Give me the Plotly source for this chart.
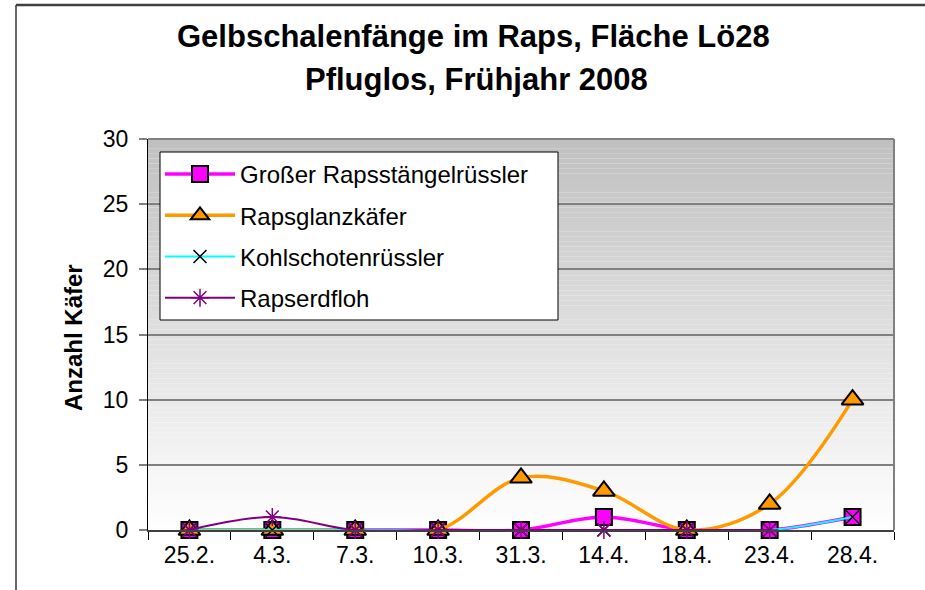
import plotly.graph_objects as go

dates = ["25.2.", "4.3.", "7.3.", "10.3.", "31.3.", "14.4.", "18.4.", "23.4.", "28.4."]
grosser_rapsstaengelruessler = [0, 0, 0, 0, 0, 1, 0, 0, 1]
rapsglanzkaefer = [0, 0, 0, 0, 4, 3, 0, 2, 10]
kohlschotenruessler = [0, 0, 0, 0, 0, 0, 0, 0, 1]
rapserdfloh = [0, 1, 0, 0, 0, 0, 0, 0, None]
y_ticks = [0, 5, 10, 15, 20, 25, 30]

FONT = "Liberation Sans, Arial, sans-serif"

fig = go.Figure()

fig.add_trace(go.Scatter(
    x=dates, y=grosser_rapsstaengelruessler, name="Großer Rapsstängelrüssler",
    mode="lines+markers", line=dict(color="#FF00FF", width=3.5, shape="spline"),
    marker=dict(symbol="square", size=16, color="#FF00FF", line=dict(color="black", width=2)),
    cliponaxis=False, legendgroup="a"))
fig.add_trace(go.Scatter(
    x=dates, y=rapsglanzkaefer, name="Rapsglanzkäfer",
    mode="lines+markers", line=dict(color="#FF9900", width=3.5, shape="spline"),
    marker=dict(symbol="triangle-up", size=19, color="#FF9900", line=dict(color="black", width=2)),
    cliponaxis=False, legendgroup="b"))
fig.add_trace(go.Scatter(
    x=dates, y=kohlschotenruessler, name="Kohlschotenrüssler",
    mode="lines+markers", line=dict(color="#00FFFF", width=2, shape="spline"),
    marker=dict(symbol="x-thin", size=13, color="black", line=dict(color="black", width=1.5)),
    cliponaxis=False, legendgroup="c"))
fig.add_trace(go.Scatter(
    x=dates, y=rapserdfloh, name="Rapserdfloh",
    mode="lines+markers", line=dict(color="#800080", width=2, shape="spline"),
    marker=dict(symbol="asterisk", size=15, color="#800080", line=dict(color="#800080", width=1.5)),
    cliponaxis=False, legendgroup="d"))

# gradient background of the plot area (gray at top to white at bottom)
n = 80
for i in range(n):
    f = (i + 0.5) / n
    g = int(round(255 - 63 * f))
    fig.add_shape(type="rect", xref="x domain", yref="y domain",
                  x0=0, x1=1, y0=i / n, y1=(i + 1) / n,
                  fillcolor=f"rgb({g},{g},{g})", line=dict(width=0), layer="below")

# top and right border of plot area
fig.add_shape(type="line", xref="x domain", yref="y domain", x0=0, x1=1, y0=1, y1=1,
              line=dict(color="#808080", width=2))
fig.add_shape(type="line", xref="x domain", yref="y domain", x0=1, x1=1, y0=0, y1=1,
              line=dict(color="#808080", width=2))

# outer chart frame
W, H = 925, 590
L, R, T, B = 148, 31, 139, 60
pw, ph = W - L - R, H - T - B
def px_x(p):
    return (p - L) / pw
def px_y(p):
    return (H - B - p) / ph
fig.add_shape(type="line", xref="paper", yref="paper", x0=px_x(16), x1=px_x(16), y0=px_y(5), y1=px_y(600),
              line=dict(color="black", width=1.2))
fig.add_shape(type="line", xref="paper", yref="paper", x0=px_x(16), x1=px_x(930), y0=px_y(5), y1=px_y(5),
              line=dict(color="#404040", width=2.5))

# legend box (white, black border) behind the legend entries
fig.add_shape(type="rect", xref="paper", yref="paper",
              x0=px_x(160), x1=px_x(558), y0=px_y(320), y1=px_y(152),
              fillcolor="white", line=dict(color="black", width=1), layer="above")

fig.add_annotation(text="<b>Gelbschalenfänge im Raps, Fläche Lö28</b>", xref="paper", yref="paper",
                   x=px_x(473), y=px_y(36), showarrow=False, xanchor="center", yanchor="middle",
                   font=dict(family=FONT, size=31, color="black"))
fig.add_annotation(text="<b>Pfluglos, Frühjahr 2008</b>", xref="paper", yref="paper",
                   x=px_x(476), y=px_y(79), showarrow=False, xanchor="center", yanchor="middle",
                   font=dict(family=FONT, size=31, color="black"))
fig.add_annotation(text="<b>Anzahl Käfer</b>", xref="paper", yref="paper",
                   x=px_x(73), y=px_y(338), showarrow=False, textangle=-90,
                   xanchor="center", yanchor="middle",
                   font=dict(family=FONT, size=24, color="black"))

fig.update_layout(
    width=W, height=H,
    margin=dict(l=L, r=R, t=T, b=B, pad=0),
    paper_bgcolor="white", plot_bgcolor="white",
    font=dict(family=FONT, size=23, color="black"),
    showlegend=True,
    legend=dict(x=px_x(160), y=px_y(152), xanchor="left", yanchor="top",
                bgcolor="rgba(0,0,0,0)", borderwidth=0,
                font=dict(family=FONT, size=24, color="black"),
                tracegroupgap=7, itemwidth=70),
    xaxis=dict(type="category", range=[-0.5, 8.5], tickson="boundaries",
               ticks="outside", ticklen=8, tickcolor="black", tickwidth=1,
               showline=True, linecolor="#404040", linewidth=2,
               showgrid=False, zeroline=False, tickfont=dict(size=23),
               ticklabelstandoff=3),
    yaxis=dict(range=[0, 30], tickvals=y_ticks, ticks="outside", ticklen=8,
               tickcolor="#808080", tickwidth=1.5,
               showline=True, linecolor="black", linewidth=1,
               showgrid=True, gridcolor="#808080", gridwidth=1.5,
               zeroline=False, tickfont=dict(size=23), ticklabelstandoff=6),
)

fig.write_html("out.html", post_script="document.body.style.margin='0px';",
               config={"displayModeBar": False})
